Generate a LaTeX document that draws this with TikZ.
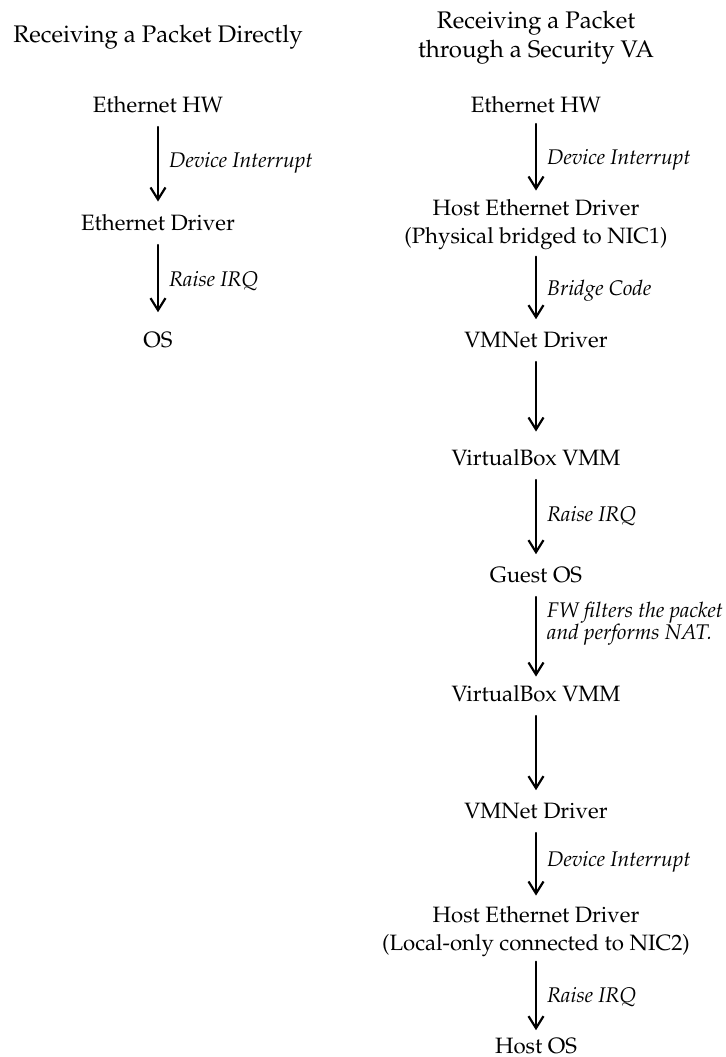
\documentclass[tikz,border=0pt]{standalone}
\usepackage[T1]{fontenc}
\usepackage{mathpazo}
\usetikzlibrary{arrows.meta}
\tikzset{
  stage/.style={anchor=base, align=center, inner sep=0pt, font=\fontsize{11.1}{14}\selectfont},
  heading/.style={stage, font=\fontsize{12}{14.5}\selectfont},
  flow/.style={-{Straight Barb[length=6pt,width=7.5pt]}, line width=1.1pt, shorten <=7pt, shorten >=6pt},
  note/.style={anchor=west, inner sep=0pt, xshift=5pt, align=left, font=\fontsize{10.6}{9}\selectfont\itshape},
}
\begin{document}
\begin{tikzpicture}[x=0.5pt, y=-0.5pt, line cap=round]
  \useasboundingbox (0,0) rectangle (726,1057);
  % receiving directly
  \node[heading] (dtitle) at (158,42) {Receiving a Packet Directly};
  \node[stage] (dhw) at (158,112) {Ethernet HW};
  \node[stage] (ddrv) at (158,230) {Ethernet Driver};
  \node[stage] (dos) at (158,347) {OS};
  \draw[flow] (dhw) -- (ddrv) node[note, midway] {Device Interrupt};
  \draw[flow, shorten >=9.5pt] (ddrv) -- (dos) node[note, midway] {Raise IRQ};
  % receiving through the security VA
  \node[heading] (vtitle) at (536,57) {Receiving a Packet\\through a Security VA};
  \node[stage] (vhw) at (536,112) {Ethernet HW};
  \node[stage] (vhost) at (536,243) {Host Ethernet Driver\\(Physical bridged to NIC1)};
  \node[stage] (vnet) at (536,347) {VMNet Driver};
  \node[stage] (vvmm) at (536,465) {VirtualBox VMM};
  \node[stage] (vguest) at (536,582) {Guest OS};
  \node[stage] (vvmmb) at (536,701) {VirtualBox VMM};
  \node[stage] (vnetb) at (536,818) {VMNet Driver};
  \node[stage] (vhostb) at (536,950) {Host Ethernet Driver\\(Local-only connected to NIC2)};
  \node[stage] (vos) at (536,1053) {Host OS};
  \draw[flow, shorten <=5.5pt, shorten >=4pt] (vhw) -- (vhost) node[note, midway, yshift=-2pt] {Device Interrupt};
  \draw[flow, shorten <=3.5pt] (vhost) -- (vnet) node[note, midway] {Bridge Code};
  \draw[flow, shorten >=8.5pt] (vnet) -- (vvmm);
  \draw[flow] (vvmm) -- (vguest) node[note, midway] {Raise IRQ};
  \draw[flow, shorten >=4pt] (vguest) -- (vvmmb) node[note, midway, yshift=5pt] {FW filters the packet\\[-1pt]and performs NAT.};
  \draw[flow] (vvmmb) -- (vnetb);
  \draw[flow, shorten >=5pt] (vnetb) -- (vhostb) node[note, midway] {Device Interrupt};
  \draw[flow, shorten <=2.5pt, shorten >=3.5pt] (vhostb) -- (vos) node[note, midway] {Raise IRQ};
\end{tikzpicture}
\end{document}
